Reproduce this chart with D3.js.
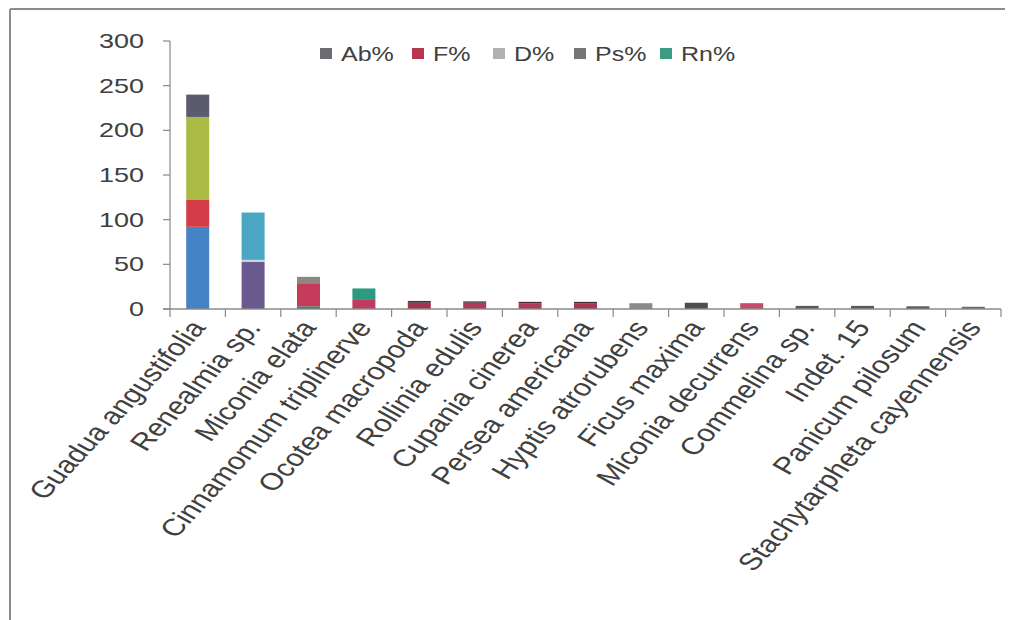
<!DOCTYPE html>
<html>
<head>
<meta charset="utf-8">
<script src="https://cdn.jsdelivr.net/npm/d3@7"></script>
<style>
  html, body { margin: 0; padding: 0; background: #fff; }
  svg { display: block; }
  text { font-family: "Liberation Sans", Arial, sans-serif; fill: #404040; }
</style>
</head>
<body>
<svg id="chart" width="1018" height="620"></svg>
<script>
// Species, in the order drawn along the x axis
const categories = [
  "Guadua angustifolia", "Renealmia sp.", "Miconia elata", "Cinnamomum triplinerve",
  "Ocotea macropoda", "Rollinia edulis", "Cupania cinerea", "Persea americana",
  "Hyptis atrorubens", "Ficus maxima", "Miconia decurrens", "Commelina sp.",
  "Indet. 15", "Panicum pilosum", "Stachytarpheta cayennensis"
];

// Stacked series (percent values), bottom to top
const seriesNames = ["Ab%", "F%", "D%", "Ps%", "Rn%"];
const abVals = [92, 53, 3, 11, 7, 7, 6.5, 6, 6.5, 7, 6.5, 3.5, 3.5, 3, 2.5];
const fVals  = [30, 2, 25, 12, 2, 1.5, 1.5, 2, 0, 0, 0, 0, 0, 0, 0];
const dVals  = [93, 53, 8, 0, 0, 0, 0, 0, 0, 0, 0, 0, 0, 0, 0];
const psVals = [25, 0, 0, 0, 0, 0, 0, 0, 0, 0, 0, 0, 0, 0, 0];
const rnVals = [0, 0, 0, 0, 0, 0, 0, 0, 0, 0, 0, 0, 0, 0, 0];

const yTicks = [0, 50, 100, 150, 200, 250, 300];

// Colours vary by point: one row per species, one entry per series
const pointColors = [
  ["#4483c6", "#d43c48", "#a9bb44", "#5a5c6e", "#3aa08a"],
  ["#6a5a8e", "#c4d8e6", "#4aa6c2", "#5a5c6e", "#3aa08a"],
  ["#2f8a5c", "#c63a5c", "#8e8680", "#5a5c6e", "#3aa08a"],
  ["#c23a5e", "#2c9a7e", "#8e8680", "#5a5c6e", "#3aa08a"],
  ["#a6344e", "#4a2c3c", "#8e8680", "#5a5c6e", "#3aa08a"],
  ["#b03a58", "#4a2c3c", "#8e8680", "#5a5c6e", "#3aa08a"],
  ["#b03a58", "#4a2c3c", "#8e8680", "#5a5c6e", "#3aa08a"],
  ["#a8384f", "#4a2c3c", "#8e8680", "#5a5c6e", "#3aa08a"],
  ["#8a8a8a", "#4a2c3c", "#8e8680", "#5a5c6e", "#3aa08a"],
  ["#4e4e50", "#4a2c3c", "#8e8680", "#5a5c6e", "#3aa08a"],
  ["#c24c6a", "#4a2c3c", "#8e8680", "#5a5c6e", "#3aa08a"],
  ["#5a5a5c", "#4a2c3c", "#8e8680", "#5a5c6e", "#3aa08a"],
  ["#5a5a5c", "#4a2c3c", "#8e8680", "#5a5c6e", "#3aa08a"],
  ["#5a5a5c", "#4a2c3c", "#8e8680", "#5a5c6e", "#3aa08a"],
  ["#6a6a6c", "#4a2c3c", "#8e8680", "#5a5c6e", "#3aa08a"]
];
const legendColors = ["#6c6c72", "#b8354f", "#b0b0b0", "#767678", "#3a9c82"];

const svg = d3.select("#chart");
const SX = 1.35; // horizontal text stretch

// outer frame (top and left edges)
svg.append("line").attr("x1", 10).attr("x2", 1005).attr("y1", 9).attr("y2", 9)
  .attr("stroke", "#8c8c8c").attr("stroke-width", 2);
svg.append("line").attr("x1", 10).attr("x2", 10).attr("y1", 9).attr("y2", 620)
  .attr("stroke", "#8c8c8c").attr("stroke-width", 2);

const xb = d3.scaleBand().domain(categories).range([170, 1001]);
const y = d3.scaleLinear().domain([0, 300]).range([309, 41]);

// build the stack table
const table = categories.map((c, i) => ({
  cat: c, idx: i,
  "Ab%": abVals[i], "F%": fVals[i], "D%": dVals[i], "Ps%": psVals[i], "Rn%": rnVals[i]
}));
const stacked = d3.stack().keys(seriesNames)(table);

// bars
stacked.forEach((layer, si) => {
  svg.append("g").selectAll("rect")
    .data(layer.filter(d => d[1] - d[0] > 0))
    .join("rect")
    .attr("x", d => xb(d.data.cat) + xb.bandwidth() / 2 - 11.5)
    .attr("width", 23)
    .attr("y", d => y(d[1]))
    .attr("height", d => y(d[0]) - y(d[1]))
    .attr("fill", d => pointColors[d.data.idx][si]);
});

// y axis
const yAxis = svg.append("g");
yAxis.append("line").attr("x1", 170).attr("x2", 170).attr("y1", y(300)).attr("y2", y(0))
  .attr("stroke", "#8a8a8a").attr("stroke-width", 1.2);
yAxis.selectAll("line.tick").data(yTicks).join("line").attr("class", "tick")
  .attr("x1", 163).attr("x2", 170).attr("y1", d => y(d)).attr("y2", d => y(d))
  .attr("stroke", "#8a8a8a").attr("stroke-width", 1.2);
yAxis.selectAll("text").data(yTicks).join("text")
  .attr("transform", d => `translate(144,${y(d) + 7}) scale(${SX},1)`)
  .attr("text-anchor", "end")
  .attr("font-size", 20)
  .text(d => d);

// x axis
const xAxis = svg.append("g");
xAxis.append("line").attr("x1", 163).attr("x2", 1001).attr("y1", y(0)).attr("y2", y(0))
  .attr("stroke", "#8a8a8a").attr("stroke-width", 1.4);
const bounds = categories.map(c => xb(c)).concat([xb.range()[1]]);
xAxis.selectAll("line.tick").data(bounds).join("line").attr("class", "tick")
  .attr("x1", d => d).attr("x2", d => d).attr("y1", y(0)).attr("y2", y(0) + 8)
  .attr("stroke", "#8a8a8a").attr("stroke-width", 1.2);
xAxis.selectAll("text").data(categories).join("text")
  .attr("transform", d => `translate(${xb(d) + xb.bandwidth() / 2 + 9},${y(0) + 19}) scale(1.3,1) rotate(-54.3)`)
  .attr("text-anchor", "end")
  .attr("font-size", 24)
  .text(d => d);

// legend
const legendX = [320, 412, 493, 574, 660];
const lg = svg.append("g");
seriesNames.forEach((name, i) => {
  lg.append("rect").attr("x", legendX[i]).attr("y", 48).attr("width", 12).attr("height", 11)
    .attr("fill", legendColors[i]);
  lg.append("text")
    .attr("transform", `translate(${legendX[i] + 21},61) scale(1.25,1)`)
    .attr("font-size", 20)
    .text(name);
});
</script>
</body>
</html>
